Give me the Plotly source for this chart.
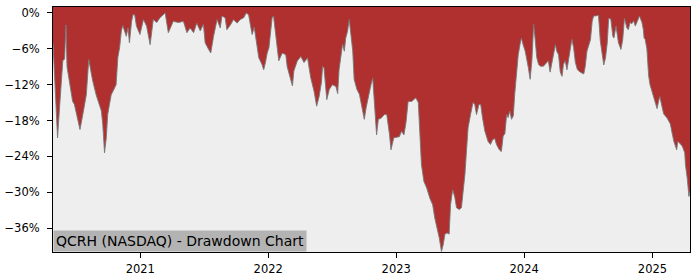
import plotly.graph_objects as go

# ---- data ----
dates = [
    "2020-04-27", "2020-05-03", "2020-05-10", "2020-05-15", "2020-05-25", "2020-05-30",
    "2020-06-03", "2020-06-06", "2020-06-13", "2020-06-22", "2020-06-27", "2020-07-07",
    "2020-07-13", "2020-07-21", "2020-07-31", "2020-08-07", "2020-08-12", "2020-08-18",
    "2020-08-28", "2020-09-07", "2020-09-12", "2020-09-16", "2020-09-21", "2020-09-26",
    "2020-09-30", "2020-10-05", "2020-10-10", "2020-10-20", "2020-10-24", "2020-10-29",
    "2020-11-03", "2020-11-08", "2020-11-12", "2020-11-17", "2020-11-22", "2020-11-27",
    "2020-12-01", "2020-12-07", "2020-12-11", "2020-12-16", "2020-12-21", "2020-12-31",
    "2021-01-10", "2021-01-19", "2021-01-29", "2021-02-07", "2021-02-17", "2021-02-26",
    "2021-03-08", "2021-03-13", "2021-03-18", "2021-03-22", "2021-04-05", "2021-04-20",
    "2021-05-04", "2021-05-14", "2021-05-23", "2021-06-02", "2021-06-11", "2021-06-21",
    "2021-06-30", "2021-07-05", "2021-07-15", "2021-07-21", "2021-07-29", "2021-08-08",
    "2021-08-17", "2021-08-22", "2021-08-31", "2021-09-05", "2021-09-15", "2021-09-24",
    "2021-10-04", "2021-10-13", "2021-10-23", "2021-10-30", "2021-11-06", "2021-11-11",
    "2021-11-16", "2021-11-22", "2021-11-30", "2021-12-05", "2021-12-14", "2021-12-19",
    "2021-12-24", "2021-12-29",
    "2022-01-03", "2022-01-08", "2022-01-12", "2022-01-16", "2022-01-22", "2022-01-27",
    "2022-01-31", "2022-02-10", "2022-02-20", "2022-02-24", "2022-03-06", "2022-03-11",
    "2022-03-15", "2022-03-25", "2022-04-04", "2022-04-13", "2022-04-23", "2022-05-02",
    "2022-05-12", "2022-05-19", "2022-05-26", "2022-06-02", "2022-06-05", "2022-06-09",
    "2022-06-17", "2022-06-24", "2022-07-03", "2022-07-13", "2022-07-18", "2022-07-22",
    "2022-08-01", "2022-08-06", "2022-08-10", "2022-08-15", "2022-08-20", "2022-08-25",
    "2022-08-30", "2022-09-03", "2022-09-11", "2022-09-18", "2022-09-24", "2022-10-02",
    "2022-10-07", "2022-10-16", "2022-10-21", "2022-10-26", "2022-10-31", "2022-11-06",
    "2022-11-11", "2022-11-19", "2022-11-28", "2022-12-05", "2022-12-13", "2022-12-17",
    "2022-12-25", "2022-12-31",
    "2023-01-10", "2023-01-16", "2023-01-23", "2023-01-29", "2023-02-04", "2023-02-14",
    "2023-02-18", "2023-02-26", "2023-03-05", "2023-03-10", "2023-03-14", "2023-03-21",
    "2023-03-29", "2023-04-07", "2023-04-15", "2023-04-21", "2023-04-28", "2023-05-04",
    "2023-05-10", "2023-05-15", "2023-05-20", "2023-05-26", "2023-06-01", "2023-06-05",
    "2023-06-11", "2023-06-17", "2023-06-22", "2023-06-30", "2023-07-06", "2023-07-11",
    "2023-07-16", "2023-07-21", "2023-07-25", "2023-08-01", "2023-08-08", "2023-08-13",
    "2023-08-18", "2023-08-25", "2023-08-30", "2023-09-04", "2023-09-11", "2023-09-20",
    "2023-09-27", "2023-10-03", "2023-10-09", "2023-10-14", "2023-10-22", "2023-10-28",
    "2023-11-02", "2023-11-07", "2023-11-12", "2023-11-16", "2023-11-21", "2023-11-26",
    "2023-12-01", "2023-12-05", "2023-12-10", "2023-12-15", "2023-12-20", "2023-12-24",
    "2023-12-29",
    "2024-01-04", "2024-01-13", "2024-01-18", "2024-01-23", "2024-01-28", "2024-02-01",
    "2024-02-06", "2024-02-11", "2024-02-16", "2024-02-25", "2024-03-06", "2024-03-10",
    "2024-03-15", "2024-03-20", "2024-03-25", "2024-03-30", "2024-04-03", "2024-04-08",
    "2024-04-13", "2024-04-18", "2024-04-22", "2024-04-27", "2024-05-02", "2024-05-07",
    "2024-05-12", "2024-05-16", "2024-05-21", "2024-05-26", "2024-06-01", "2024-06-09",
    "2024-06-19", "2024-06-23", "2024-06-28", "2024-07-03", "2024-07-08", "2024-07-13",
    "2024-07-17", "2024-07-22", "2024-07-31", "2024-08-05", "2024-08-10", "2024-08-15",
    "2024-08-20", "2024-08-25", "2024-08-29", "2024-09-04", "2024-09-10", "2024-09-13",
    "2024-09-19", "2024-09-26", "2024-10-03", "2024-10-08", "2024-10-13", "2024-10-20",
    "2024-10-24", "2024-10-29", "2024-11-03", "2024-11-08", "2024-11-13", "2024-11-17",
    "2024-11-25", "2024-12-02", "2024-12-06", "2024-12-08", "2024-12-11", "2024-12-16",
    "2024-12-21", "2024-12-25", "2024-12-31",
    "2025-01-05", "2025-01-10", "2025-01-14", "2025-01-19", "2025-01-22", "2025-01-29",
    "2025-02-02", "2025-02-12", "2025-02-21", "2025-02-26", "2025-03-03", "2025-03-11",
    "2025-03-14", "2025-03-20", "2025-03-27", "2025-04-03", "2025-04-05", "2025-04-10",
    "2025-04-15", "2025-04-18",
]

drawdown = [
    -5.0, -13.0, -20.9, -16.4, -8.0, -7.7,
    -2.0, -9.0, -11.4, -14.8, -15.3, -18.1,
    -19.5, -17.0, -13.7, -7.8, -9.6, -11.3,
    -13.7, -15.3, -16.4, -18.7, -23.4, -20.9,
    -17.0, -15.3, -13.7, -12.5, -12.0, -7.4,
    -5.8, -3.0, -2.1, -3.0, -3.9, -2.5,
    -5.0, -1.5, -0.3, -0.3, -2.2, -3.6,
    -1.1, -2.2, -5.3, -1.1, -1.6, -0.8,
    -0.25, 0.0, -1.9, -3.3, -1.4, -1.6,
    -1.4, -3.3, -2.5, -3.3, -1.7, -3.0,
    -1.9, -5.0, -6.1, -6.7, -3.9, -1.1,
    -2.5, -0.5, -0.8, -2.8, -2.0, -1.1,
    -1.7, -1.1, -0.8, 0.0, -0.3, -2.4,
    -3.6, -2.4, -5.6, -7.5, -8.6, -9.5,
    -8.3, -6.7,
    -5.8, -2.8, -0.8, -0.5, -3.3, -6.1,
    -8.0, -6.7, -7.0, -9.0, -11.1, -12.2,
    -9.7, -8.0, -7.3, -8.3, -7.5, -10.8,
    -13.2, -15.6, -14.0, -11.5, -8.9, -9.2,
    -14.5, -12.8, -12.0, -12.3, -13.5, -9.5,
    -5.2, -6.4, -4.2, -3.1, -1.1, -3.6,
    -6.4, -11.1, -12.8, -13.6, -15.3, -17.8,
    -15.9, -13.1, -12.0, -10.9, -15.3, -20.4,
    -17.8, -17.6, -17.0, -17.0, -20.4, -22.9,
    -20.9, -20.8,
    -20.7, -19.8, -20.4, -18.3, -14.8, -14.8,
    -14.6, -14.2, -15.0, -20.9, -25.4, -28.2,
    -29.3, -31.0, -32.1, -34.3, -36.0, -37.7,
    -39.9, -38.8, -37.0, -36.8, -37.0, -32.1,
    -29.6, -30.8, -32.6, -32.9, -32.6, -29.8,
    -27.0, -22.6, -19.2, -17.0, -15.0, -15.3,
    -17.0, -15.3, -15.3, -17.5, -19.8, -21.5,
    -22.0, -21.2, -21.0, -22.0, -22.9, -23.2,
    -20.6, -20.2, -17.0, -17.5, -16.4, -17.8,
    -17.2, -13.6, -9.7, -7.0, -5.3, -4.2,
    -5.3,
    -6.4, -9.2, -11.1, -8.0, -1.9, -4.2,
    -7.5, -8.6, -8.9, -8.9, -8.3, -8.0,
    -9.9, -8.3, -6.4, -5.3, -6.4, -7.0,
    -9.9, -10.6, -8.6, -8.0, -9.5, -7.5,
    -6.1, -4.4, -5.8, -8.3, -9.5, -9.9,
    -10.2, -9.0, -6.4, -5.5, -4.5, -1.4,
    -0.5, -0.5, -0.4, -4.6, -7.2, -8.7,
    -7.5, -5.0, -0.9, -1.0, -3.9, -4.2,
    -2.2, -5.0, -6.1, -4.5, -0.9, -2.5,
    -2.8, -1.6, -1.8, -1.3, -2.2, -1.6,
    -0.5, -1.6, -2.8, -4.2, -4.4, -6.0,
    -10.5, -12.0, -13.2,
    -14.5, -15.4, -16.0, -14.6, -14.0, -15.9,
    -16.9, -17.6, -18.6, -20.1, -21.5, -22.9,
    -21.5, -21.8, -22.3, -23.4, -25.4, -27.6,
    -30.7, -29.8,
]

y_tick_values = [0, -6, -12, -18, -24, -30, -36]
y_tick_labels = ["0%", "\u22126%", "\u221212%", "\u221218%", "\u221224%", "\u221230%", "\u221236%"]
x_tick_values = ["2021-01-01", "2022-01-01", "2023-01-01", "2024-01-01", "2025-01-01"]
x_tick_labels = ["2021", "2022", "2023", "2024", "2025"]
chart_label = "QCRH (NASDAQ) - Drawdown Chart"
y_bottom = -40.0
y_top = 1.0

RED = "#b03030"
GREY_FILL = "#eeeeee"
FONT = "DejaVu Sans"

fig = go.Figure()
# invisible floor below the visible range, the grey area is filled up to the curve
fig.add_trace(go.Scatter(
    x=dates, y=[y_bottom - 5] * len(dates), mode="lines",
    line=dict(width=0, color=GREY_FILL), hoverinfo="skip", showlegend=False,
))
fig.add_trace(go.Scatter(
    x=dates, y=drawdown, mode="lines",
    line=dict(color="rgba(120,120,120,0.9)", width=1),
    fill="tonexty", fillcolor=GREY_FILL, showlegend=False,
))

axis_common = dict(
    showline=True, linecolor="black", linewidth=1, mirror=True,
    ticks="outside", ticklen=5, tickwidth=1, tickcolor="black",
    showgrid=False, zeroline=False, automargin=False,
    tickfont=dict(family=FONT, size=11.5, color="black"),
)

fig.update_layout(
    width=700, height=280,
    margin=dict(l=53, r=10, t=7, b=28, autoexpand=False),
    paper_bgcolor="white",
    plot_bgcolor=RED,
    font=dict(family=FONT, color="black"),
    xaxis=dict(range=[dates[0], dates[-1]], tickvals=x_tick_values,
               ticktext=x_tick_labels, ticklabelstandoff=1, **axis_common),
    yaxis=dict(range=[y_bottom, y_top], tickvals=y_tick_values,
               ticktext=y_tick_labels, ticklabelstandoff=5, **axis_common),
    annotations=[dict(
        text=chart_label, xref="paper", yref="paper", x=0, y=0,
        xanchor="left", yanchor="bottom", showarrow=False,
        bgcolor="#b3b3b3", borderpad=2,
        font=dict(family=FONT, size=14, color="black"),
    )],
)

fig.write_html("out.html")
